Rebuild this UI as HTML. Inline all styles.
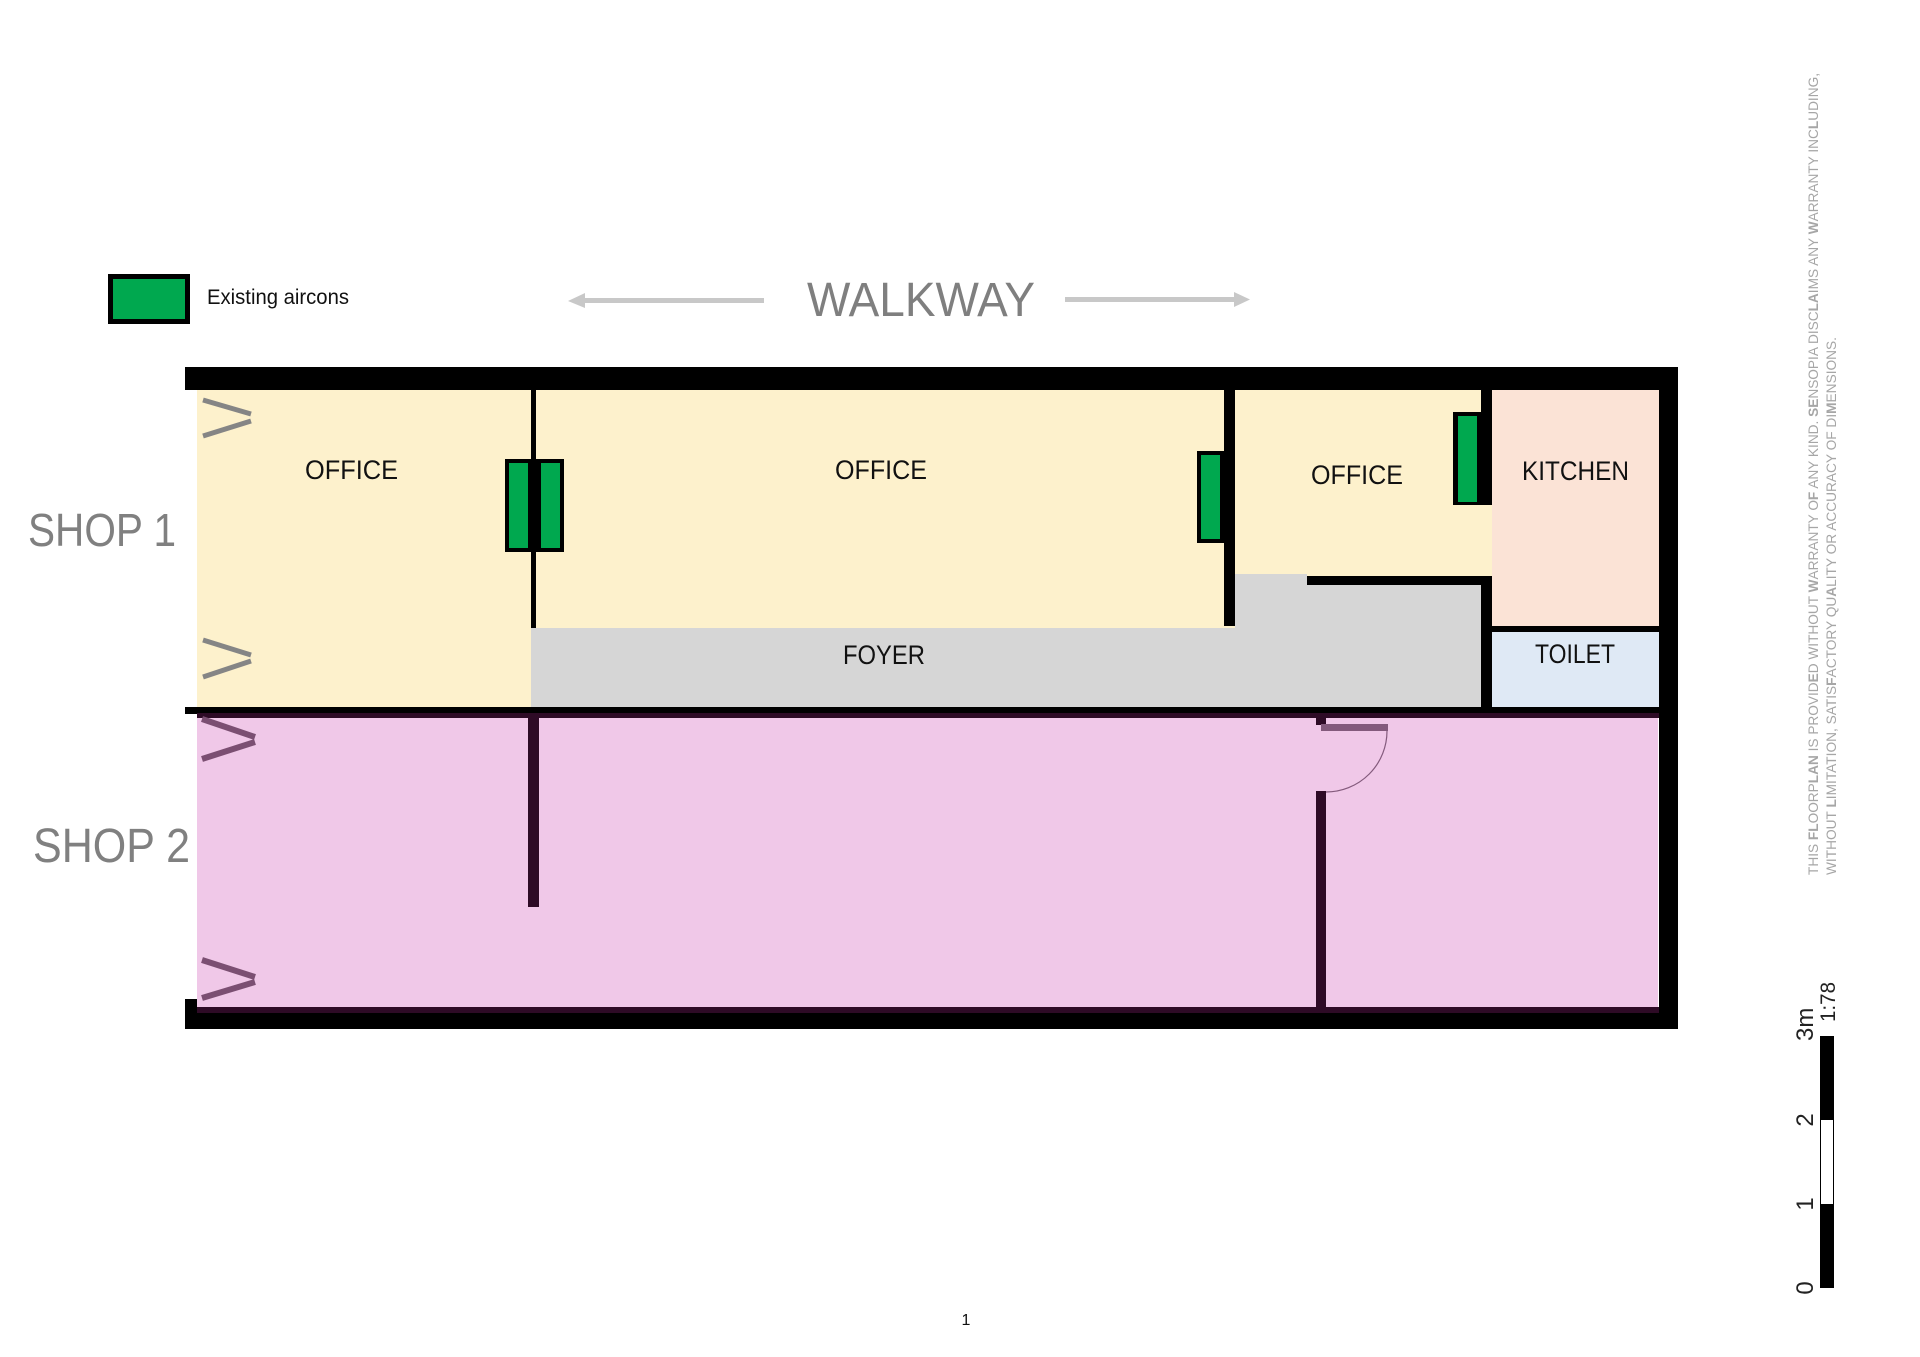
<!DOCTYPE html>
<html>
<head>
<meta charset="utf-8">
<style>
  html, body { margin: 0; padding: 0; background: #ffffff; }
  body { width: 1920px; height: 1357px; overflow: hidden; }
  svg { display: block; }
  text { font-family: "Liberation Sans", "DejaVu Sans", sans-serif; }
</style>
</head>
<body>
<svg width="1920" height="1357" viewBox="0 0 1920 1357" xmlns="http://www.w3.org/2000/svg">
  <rect x="0" y="0" width="1920" height="1357" fill="#ffffff"/>

  <!-- Legend -->
  <rect x="108" y="274" width="82" height="50" fill="#000"/>
  <rect x="113" y="279" width="72" height="40" fill="#00a84f"/>
  <text x="207" y="304" font-size="21" fill="#111" textLength="142" lengthAdjust="spacingAndGlyphs">Existing aircons</text>

  <!-- Walkway -->
  <line x1="582" y1="300.5" x2="764" y2="300.5" stroke="#c8c8c8" stroke-width="5"/>
  <polygon points="568,301 585,293 585,308" fill="#c8c8c8"/>
  <text x="807" y="316" font-size="48" fill="#7f7f7f" textLength="228" lengthAdjust="spacingAndGlyphs">WALKWAY</text>
  <line x1="1065" y1="299.5" x2="1237" y2="299.5" stroke="#c8c8c8" stroke-width="5"/>
  <polygon points="1250,299.5 1234,292 1234,307" fill="#c8c8c8"/>

  <!-- Shop labels -->
  <text x="28" y="546" font-size="46" fill="#808080" textLength="148" lengthAdjust="spacingAndGlyphs">SHOP 1</text>
  <text x="33" y="862" font-size="48" fill="#808080" textLength="157" lengthAdjust="spacingAndGlyphs">SHOP 2</text>

  <!-- Shop 1 fills -->
  <rect x="197" y="390" width="1295" height="318" fill="#fdf1cc"/>
  <polygon points="531,628 1235,628 1235,574 1307,574 1307,585 1481,585 1481,708 531,708" fill="#d6d6d6"/>
  <rect x="1492" y="390" width="167" height="236" fill="#fbe3d6"/>
  <rect x="1492" y="632" width="167" height="76" fill="#dfe9f5"/>

  <!-- Shop 2 fill -->
  <rect x="197" y="718" width="1461" height="290" fill="#f0c8e8"/>

  <!-- Outer walls -->
  <rect x="185" y="367" width="1493" height="23" fill="#000"/>
  <rect x="1659" y="367" width="19" height="662" fill="#000"/>
  <!-- Shop divider -->
  <rect x="185" y="707" width="1493" height="7" fill="#000"/>
  <rect x="197" y="713" width="1462" height="5" fill="#2e0b26"/>
  <!-- Bottom wall -->
  <rect x="197" y="1007" width="1462" height="7" fill="#2e0b26"/>
  <rect x="185" y="1013" width="1493" height="16" fill="#000"/>
  <rect x="185" y="999" width="12" height="30" fill="#000"/>

  <!-- Shop 1 interior walls -->
  <rect x="531" y="390" width="5" height="238" fill="#000"/>
  <rect x="1224" y="390" width="11" height="236" fill="#000"/>
  <rect x="1481" y="390" width="11" height="115" fill="#000"/>
  <rect x="1307" y="576" width="185" height="9" fill="#000"/>
  <rect x="1481" y="576" width="11" height="132" fill="#000"/>
  <rect x="1492" y="626" width="167" height="6" fill="#000"/>

  <!-- Shop 2 interior walls -->
  <rect x="528" y="717" width="11" height="190" fill="#2e0b26"/>
  <rect x="1316" y="717" width="10" height="8" fill="#2e0b26"/>
  <rect x="1316" y="791" width="10" height="218" fill="#2e0b26"/>
  <!-- Door -->
  <rect x="1321" y="724" width="67" height="7" fill="#835a7c"/>
  <path d="M1387,731 A61,61 0 0 1 1326,792" fill="none" stroke="#835a7c" stroke-width="1.2"/>

  <!-- Aircons -->
  <rect x="505" y="459" width="59" height="93" fill="#000"/>
  <rect x="509" y="463" width="19" height="85" fill="#00a84f"/>
  <rect x="541" y="463" width="19" height="85" fill="#00a84f"/>

  <rect x="1197" y="451" width="28" height="92" fill="#000"/>
  <rect x="1201" y="455" width="19" height="84" fill="#00a84f"/>

  <rect x="1453" y="412" width="29" height="93" fill="#000"/>
  <rect x="1458" y="416" width="19" height="86" fill="#00a84f"/>

  <!-- Windows shop 1 -->
  <g stroke="#858585" stroke-width="5" stroke-linecap="butt">
    <line x1="203" y1="400" x2="251" y2="414"/>
    <line x1="251" y1="421" x2="203" y2="436"/>
    <line x1="203" y1="640" x2="251" y2="655"/>
    <line x1="251" y1="661" x2="203" y2="677"/>
  </g>
  <!-- Windows shop 2 -->
  <g stroke="#7b4f72" stroke-width="6" stroke-linecap="butt">
    <line x1="202" y1="719" x2="255" y2="737"/>
    <line x1="255" y1="742" x2="202" y2="759"/>
    <line x1="202" y1="960" x2="255" y2="977"/>
    <line x1="255" y1="982" x2="202" y2="998"/>
  </g>

  <!-- Room labels -->
  <g font-size="27" fill="#111">
    <text x="305" y="479" textLength="93" lengthAdjust="spacingAndGlyphs">OFFICE</text>
    <text x="835" y="479" textLength="92" lengthAdjust="spacingAndGlyphs">OFFICE</text>
    <text x="1311" y="484" textLength="92" lengthAdjust="spacingAndGlyphs">OFFICE</text>
    <text x="1522" y="480" textLength="107" lengthAdjust="spacingAndGlyphs">KITCHEN</text>
    <text x="843" y="664" textLength="82" lengthAdjust="spacingAndGlyphs">FOYER</text>
    <text x="1535" y="663" textLength="80" lengthAdjust="spacingAndGlyphs">TOILET</text>
  </g>

  <!-- Disclaimer (rotated) -->
  <g font-size="13.5" fill="#a6a6a6">
    <text transform="translate(1818,875) rotate(-90)" x="0" y="0" textLength="802" lengthAdjust="spacingAndGlyphs">THIS <tspan font-weight="bold">FL</tspan>OORP<tspan font-weight="bold">LAN</tspan> IS PROVID<tspan font-weight="bold">E</tspan>D WITHOUT <tspan font-weight="bold">W</tspan>ARRANTY O<tspan font-weight="bold">F</tspan> ANY KIND. <tspan font-weight="bold">SE</tspan>NSOPIA DISC<tspan font-weight="bold">LA</tspan>IMS ANY <tspan font-weight="bold">W</tspan>ARRANTY INC<tspan font-weight="bold">L</tspan>UDING,</text>
    <text transform="translate(1836,875) rotate(-90)" x="0" y="0" textLength="538" lengthAdjust="spacingAndGlyphs">WITHOUT <tspan font-weight="bold">L</tspan>IMITATION, SATIS<tspan font-weight="bold">F</tspan>ACTORY QU<tspan font-weight="bold">A</tspan>LITY OR ACCURACY OF DI<tspan font-weight="bold">M</tspan>ENSIONS.</text>
  </g>

  <!-- Scale bar -->
  <rect x="1820.5" y="1036.5" width="13" height="251" fill="#fff" stroke="#000" stroke-width="1"/>
  <rect x="1820" y="1036" width="14" height="84" fill="#000"/>
  <rect x="1820" y="1204" width="14" height="84" fill="#000"/>
  <g font-size="24" fill="#222">
    <text transform="translate(1813,1288) rotate(-90)" text-anchor="middle">0</text>
    <text transform="translate(1813,1204) rotate(-90)" text-anchor="middle">1</text>
    <text transform="translate(1813,1120) rotate(-90)" text-anchor="middle">2</text>
    <text transform="translate(1813,1041) rotate(-90)" text-anchor="start">3m</text>
  </g>
  <text transform="translate(1835,1022) rotate(-90)" font-size="21" fill="#222" textLength="40" lengthAdjust="spacingAndGlyphs">1:78</text>

  <!-- Page number -->
  <text x="966" y="1325" font-size="16" fill="#111" text-anchor="middle">1</text>
</svg>
</body>
</html>
